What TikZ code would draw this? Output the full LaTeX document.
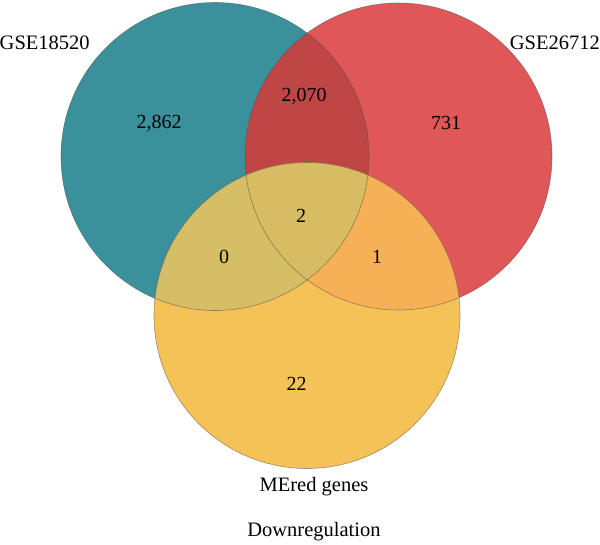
\documentclass[tikz,border=0pt]{standalone}
\usepackage{fontspec}
\setmainfont{Liberation Serif}
\definecolor{tealset}{HTML}{3B919B}
\definecolor{redset}{HTML}{E05757}
\definecolor{yellowset}{HTML}{F5C257}
\definecolor{tealred}{HTML}{C04545}
\definecolor{tealyellow}{HTML}{D5BE65}
\definecolor{redyellow}{HTML}{F6B055}
\definecolor{allthree}{HTML}{D7BC62}

\begin{document}
\begin{tikzpicture}[x=1pt,y=-1pt,
    setline/.style={draw=black!70,draw opacity=0.55,line width=0.6pt},
    count/.style={font=\fontsize{20}{24}\selectfont},
    setlabel/.style={font=\fontsize{20.5}{24}\selectfont,inner sep=0pt}]
  \useasboundingbox (0,0) rectangle (600,545);
  \coordinate (ca) at (215,156.5);
  \coordinate (cb) at (398.5,156.5);
  \coordinate (cc) at (307,315.5);
  \fill[tealset] (ca) circle (154);
  \fill[redset] (cb) circle (153.5);
  \fill[yellowset] (cc) circle (153);
  \begin{scope}
    \clip (ca) circle (154);
    \fill[tealred] (cb) circle (153.5);
    \fill[tealyellow] (cc) circle (153);
  \end{scope}
  \begin{scope}
    \clip (cb) circle (153.5);
    \fill[redyellow] (cc) circle (153);
    \clip (ca) circle (154);
    \fill[allthree] (cc) circle (153);
  \end{scope}
  \draw[setline] (ca) circle (154);
  \draw[setline] (cb) circle (153.5);
  \draw[setline] (cc) circle (153);
  \node[setlabel,anchor=west] (la) at (-0.5,43) {GSE18520};
  \node[setlabel,anchor=east] (lb) at (600,43) {GSE26712};
  \node[setlabel] (lc) at (314,487) {MEred genes};
  \node[setlabel] (title) at (314,532) {Downregulation};
  \node[count] (na) at (159,123) {2,862};
  \node[count] (nab) at (304,96) {2,070};
  \node[count] (nb) at (446,123) {731};
  \node[count] (nabc) at (301,215.5) {2};
  \node[count] (nac) at (224,256.5) {0};
  \node[count] (nbc) at (377,256.5) {1};
  \node[count] (nc) at (296.5,384) {22};
\end{tikzpicture}
\end{document}
